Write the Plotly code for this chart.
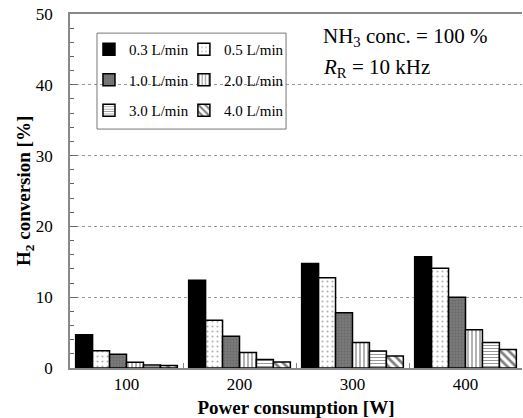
import plotly.graph_objects as go

power = ["100", "200", "300", "400"]
flow_labels = ["0.3 L/min", "0.5 L/min", "1.0 L/min", "2.0 L/min", "3.0 L/min", "4.0 L/min"]
conv_03 = [4.7, 12.4, 14.75, 15.7]
conv_05 = [2.45, 6.75, 12.75, 14.1]
conv_10 = [1.95, 4.5, 7.8, 10.0]
conv_20 = [0.8, 2.2, 3.6, 5.4]
conv_30 = [0.42, 1.2, 2.4, 3.6]
conv_40 = [0.35, 0.85, 1.7, 2.6]

series = [conv_03, conv_05, conv_10, conv_20, conv_30, conv_40]
styles = [
    dict(color="black", pattern=dict(shape="")),
    dict(color="white", pattern=dict(shape=".", fgcolor="#666", size=5, solidity=0.15)),
    dict(color="#7a7a7a", pattern=dict(shape=".", fgcolor="#555", bgcolor="#7a7a7a", size=3, solidity=0.3)),
    dict(color="white", pattern=dict(shape="|", fgcolor="black", size=4, solidity=0.3)),
    dict(color="white", pattern=dict(shape="-", fgcolor="#333", size=3, solidity=0.35)),
    dict(color="white", pattern=dict(shape="\\", fgcolor="black", size=6, solidity=0.45)),
]
legend_ids = ["legend", "legend2", "legend", "legend2", "legend", "legend2"]

FAM = "'Liberation Serif', 'Times New Roman', Times, serif"

fig = go.Figure()
for i, (vals, st) in enumerate(zip(series, styles)):
    fig.add_trace(go.Bar(
        x=power, y=vals, name=flow_labels[i],
        marker=dict(color=st["color"], pattern=st["pattern"],
                    line=dict(color="black", width=1.5)),
        legend=legend_ids[i], legendgroup=f"g{i}",
    ))

leg_common = dict(bgcolor="rgba(0,0,0,0)", borderwidth=0, tracegroupgap=8,
                  font=dict(family=FAM, size=15, color="black"),
                  yanchor="top", xanchor="left", itemwidth=30)

fig.update_layout(
    width=523, height=418,
    margin=dict(l=70, r=1, t=14, b=50, autoexpand=False),
    paper_bgcolor="white", plot_bgcolor="white",
    barmode="group", bargap=0.1, bargroupgap=0,
    font=dict(family=FAM, size=16, color="black"),
    legend=dict(x=0.042, y=0.946, **leg_common),
    legend2=dict(x=0.252, y=0.946, **leg_common),
    xaxis=dict(
        type="category", tickson="boundaries", ticks="inside", ticklen=5,
        tickcolor="#888", showline=True, linecolor="#888", linewidth=1.5,
        mirror=True, showgrid=False, automargin=False,
        title=dict(text="<b>Power consumption [W]</b>", font=dict(family=FAM, size=19, color="black"), standoff=8),
        tickfont=dict(family=FAM, size=17, color="black"),
    ),
    yaxis=dict(
        range=[0, 50], dtick=10, ticks="inside", ticklen=7, tickcolor="#666",
        showline=True, linecolor="#888", linewidth=1.5, automargin=False,
        showgrid=True, gridcolor="#999", griddash="dot", gridwidth=1,
        minor=dict(dtick=2, ticks="inside", ticklen=4, tickcolor="#666", showgrid=False),
        zeroline=False, ticklabelstandoff=12,
        tickfont=dict(family=FAM, size=17, color="black"),
    ),
    shapes=[dict(type="rect", xref="paper", yref="paper",
                 x0=0.0597, x1=0.478, y0=0.675, y1=0.946,
                 line=dict(color="#777", width=1), fillcolor="rgba(0,0,0,0)")],
    annotations=[
        dict(xref="paper", yref="paper", x=-0.0996, y=0.5, xanchor="center", yanchor="middle",
             textangle=-90, showarrow=False,
             text="<b>H<sub>2</sub> conversion [%]</b>",
             font=dict(family=FAM, size=19, color="black")),
        dict(xref="paper", yref="paper", x=0.555, y=0.935, xanchor="left", yanchor="middle",
             align="left", showarrow=False, bgcolor="white",
             text="NH<sub>3</sub> conc. = 100 %",
             font=dict(family=FAM, size=21, color="black")),
        dict(xref="paper", yref="paper", x=0.555, y=0.847, xanchor="left", yanchor="middle",
             align="left", showarrow=False, bgcolor="white",
             text="<i>R</i><sub>R</sub> = 10 kHz",
             font=dict(family=FAM, size=21, color="black")),
    ],
)

fig.write_html("out.html", post_script="document.body.style.margin='0';",
               config={"displayModeBar": False})
